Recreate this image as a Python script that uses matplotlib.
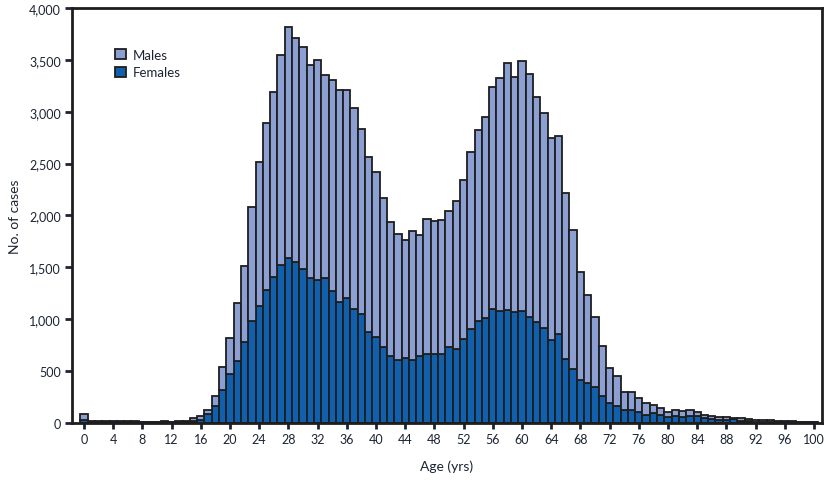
import numpy as np
import matplotlib
matplotlib.use("Agg")
import matplotlib.pyplot as plt
from matplotlib.patches import Patch
from matplotlib.ticker import FuncFormatter

plt.rcParams['font.family'] = ['Lato', 'DejaVu Sans']

ages = np.arange(0, 101)

# total cases per age (males + females)
total = np.array([
    85, 20, 20, 22, 22, 22, 15, 22, 13, 13,
    13, 22, 13, 20, 22, 45, 64, 128, 263, 543,
    822, 1160, 1516, 2085, 2519, 2888, 3193, 3547, 3817, 3714,
    3627, 3454, 3502, 3354, 3309, 3213, 3213, 3040, 2834, 2564,
    2422, 2169, 1940, 1822, 1767, 1853, 1812, 1966, 1950, 1960,
    2047, 2143, 2345, 2615, 2827, 2952, 3242, 3325, 3473, 3335,
    3486, 3364, 3145, 2991, 2750, 2769, 2220, 1863, 1458, 1237,
    1017, 744, 527, 450, 296, 296, 241, 193, 173, 145,
    103, 122, 113, 122, 109, 77, 64, 61, 55, 51,
    45, 35, 28, 28, 26, 15, 15, 15, 13, 13,
    12])

females = np.array([
    30, 9, 9, 9, 9, 9, 7, 9, 6, 6,
    6, 9, 6, 9, 9, 20, 32, 87, 167, 321,
    472, 594, 784, 980, 1131, 1285, 1404, 1526, 1593, 1552,
    1487, 1394, 1381, 1394, 1275, 1169, 1205, 1099, 1051, 880,
    826, 735, 646, 610, 623, 607, 649, 662, 662, 668,
    735, 713, 810, 906, 983, 1012, 1099, 1080, 1089, 1073,
    1083, 1025, 970, 919, 803, 858, 617, 520, 419, 384,
    350, 261, 188, 161, 122, 122, 103, 80, 96, 80,
    55, 64, 62, 64, 67, 45, 38, 32, 29, 35,
    20, 18, 14, 14, 12, 7, 7, 7, 7, 7,
    7])

males = total - females

female_color = '#1060ad'
male_color = '#8c9fd2'
edge = '#1e1e1e'
text_color = '#1c2433'

fig = plt.figure(figsize=(8.32, 4.81), dpi=100)
ax = fig.add_axes([0.0865, 0.1185, 0.9015, 0.8628])

ax.bar(ages, females, width=1.0, color=female_color, edgecolor=edge, linewidth=1.3)
ax.bar(ages, males, bottom=females, width=1.0, color=male_color, edgecolor=edge, linewidth=1.3)

ax.set_xlim(-1.65, 101.1)
ax.set_ylim(0, 4000)
ax.set_xticks(np.arange(0, 101, 4))
ax.set_yticks(np.arange(0, 4001, 500))
ax.yaxis.set_major_formatter(FuncFormatter(lambda v, p: f"{int(v):,}"))

for s in ax.spines.values():
    s.set_linewidth(2.0)
    s.set_color(edge)

ax.tick_params(axis='y', length=5, width=2, pad=3, labelsize=9, colors=text_color)
ax.tick_params(axis='x', length=4.5, width=2, pad=3, labelsize=9, colors=text_color)
for t in ax.get_xticklines() + ax.get_yticklines():
    t.set_color(edge)

ax.set_ylabel("No. of cases", fontsize=10, color=text_color, labelpad=6)
ax.set_xlabel("Age (yrs)", fontsize=10, color=text_color, labelpad=10)

handles = [Patch(facecolor=male_color, edgecolor=edge, linewidth=1.3, label='Males'),
           Patch(facecolor=female_color, edgecolor=edge, linewidth=1.3, label='Females')]
leg = ax.legend(handles=handles, loc='upper left', bbox_to_anchor=(0.05, 0.915),
                frameon=False, fontsize=9.5, handlelength=0.85, handleheight=0.85,
                handletextpad=0.5, labelspacing=0.45, borderaxespad=0)
for t in leg.get_texts():
    t.set_color(text_color)

plt.savefig("out.png", dpi=100)
